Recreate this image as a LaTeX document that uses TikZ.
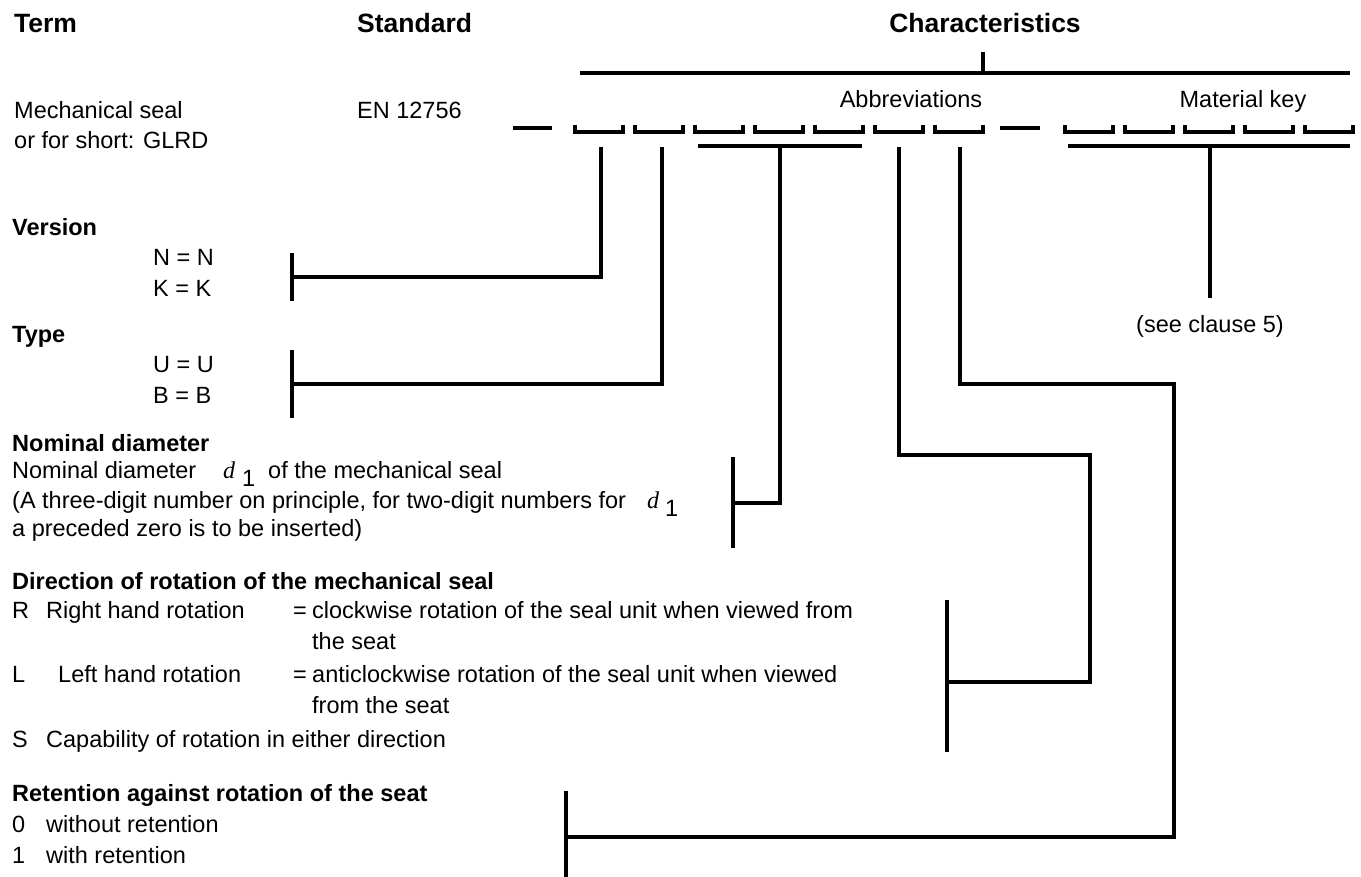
\documentclass[tikz,border=0pt]{standalone}
\usepackage{fontspec}
\setmainfont{Liberation Sans}
\newfontfamily\serifit{Liberation Serif}
\begin{document}
\begin{tikzpicture}[x=1pt,y=-1pt,line cap=butt,line join=miter,
  txt/.style={anchor=west,inner sep=0pt,font=\fontsize{23.5}{28}\selectfont,text height=17pt,text depth=5pt},
  ctxt/.style={txt,anchor=center},
  btxt/.style={txt,font=\fontsize{23.5}{28}\selectfont\bfseries},
  htxt/.style={txt,font=\fontsize{26.5}{30}\selectfont\bfseries},
  dvar/.style={txt,font=\fontsize{24}{28}\selectfont\serifit\itshape},
  slot/.style={line width=3.5pt},
  brk/.style={line width=3.8pt},
  conn/.style={line width=4pt}]
\path[use as bounding box] (0,0) rectangle (1361,877);

% headers
\node[htxt] (hterm) at (14,27) {Term};
\node[htxt] (hstd) at (357,27) {Standard};
\node[htxt,anchor=center] (hchar) at (985,27) {Characteristics};

% top bracket
\coordinate (tbL) at (580,73);
\coordinate (tbR) at (1350,73);
\coordinate (tbT) at (983,52);
\coordinate (tbM) at (983,73);
\draw[brk] (tbL) -- (tbR);
\draw[brk] (tbT) -- (tbM);

\node[ctxt] (abbr) at (911,102) {Abbreviations};
\node[ctxt] (matk) at (1243,102) {Material key};

\node[txt] (term1) at (14,113) {Mechanical seal};
\node[txt] (term2) at (14,143) {or for short: GLRD};
\node[txt] (std) at (357,113) {EN 12756};

% dashes
\coordinate (dA1) at (513,128); \coordinate (dA2) at (552,128);
\coordinate (dB1) at (1000,128); \coordinate (dB2) at (1040,128);
\draw[slot] (dA1) -- (dA2);
\draw[slot] (dB1) -- (dB2);

% slots
\foreach \x in {575,635,695,755,815,875,935,1065,1125,1185,1245,1305}{
  \draw[slot] (\x,125) -- (\x,132) -- (\x+48,132) -- (\x+48,125);
}

% under brackets
\coordinate (nbL) at (698,146); \coordinate (nbR) at (862,146);
\draw[brk] (nbL) -- (nbR);
\coordinate (mbL) at (1068,146); \coordinate (mbR) at (1350,146);
\draw[brk] (mbL) -- (mbR);

% connector start points
\coordinate (s1) at (601,147);
\coordinate (s2) at (662,147);
\coordinate (nb) at (780,146);
\coordinate (s6) at (899,147);
\coordinate (s7) at (960,147);
\coordinate (mb) at (1210,146);
\coordinate (mbE) at (1210,298);

% Version
\node[btxt] (lver) at (12,230) {Version};
\node[txt] (vN) at (153,260) {N = N};
\node[txt] (vK) at (153,291) {K = K};
\coordinate (verT) at (292,253); \coordinate (verB) at (292,301); \coordinate (verM) at (292,277);
\draw[conn] (verT) -- (verB);
\draw[conn] (s1) |- (verM);

% Type
\node[btxt] (ltyp) at (12,337) {Type};
\node[txt] (tU) at (153,367) {U = U};
\node[txt] (tB) at (153,397) {B = B};
\coordinate (typT) at (292,350); \coordinate (typB) at (292,418); \coordinate (typM) at (292,384);
\draw[conn] (typT) -- (typB);
\draw[conn] (s2) |- (typM);

% Nominal diameter
\node[btxt] (lnom) at (12,445) {Nominal diameter};
\node[txt] (n1a) at (12,472) {Nominal diameter};
\node[dvar] (n1d) at (223,472) {d};
\node[txt] (n1s) at (242,480) {1};
\node[txt] (n1b) at (268,472) {of the mechanical seal};
\node[txt] (n2a) at (12,502) {(A three-digit number on principle, for two-digit numbers for};
\node[dvar] (n2d) at (647,502) {d};
\node[txt] (n2s) at (665,510) {1};
\node[txt] (n3) at (12,530) {a preceded zero is to be inserted)};
\coordinate (nomT) at (733,457); \coordinate (nomB) at (733,548); \coordinate (nomM) at (733,503);
\draw[conn] (nomT) -- (nomB);
\draw[conn] (nb) |- (nomM);

% Direction
\node[btxt] (ldir) at (12,583) {Direction of rotation of the mechanical seal};
\node[txt] (dR) at (12,612) {R};
\node[txt] (dR1) at (46,612) {Right hand rotation};
\node[txt] (dR2) at (293,612) {=};
\node[txt] (dR3) at (312,612) {clockwise rotation of the seal unit when viewed from};
\node[txt] (dR4) at (312,643) {the seat};
\node[txt] (dL) at (12,676) {L};
\node[txt] (dL1) at (58,676) {Left hand rotation};
\node[txt] (dL2) at (293,676) {=};
\node[txt] (dL3) at (312,676) {anticlockwise rotation of the seal unit when viewed};
\node[txt] (dL4) at (312,707) {from the seat};
\node[txt] (dS) at (12,741) {S};
\node[txt] (dS1) at (46,741) {Capability of rotation in either direction};
\coordinate (dirT) at (947,600); \coordinate (dirB) at (947,752); \coordinate (dirM) at (947,682);
\coordinate (dir1) at (899,455); \coordinate (dir2) at (1090,455); \coordinate (dir3) at (1090,682);
\draw[conn] (dirT) -- (dirB);
\draw[conn] (s6) -- (dir1) -- (dir2) -- (dir3) -- (dirM);

% Retention
\node[btxt] (lret) at (12,795) {Retention against rotation of the seat};
\node[txt] (r0) at (12,826) {0};
\node[txt] (r0a) at (46,826) {without retention};
\node[txt] (r1) at (12,857) {1};
\node[txt] (r1a) at (46,857) {with retention};
\coordinate (retT) at (566,791); \coordinate (retB) at (566,877); \coordinate (retM) at (566,837);
\coordinate (ret1) at (960,384); \coordinate (ret2) at (1174,384); \coordinate (ret3) at (1174,837);
\draw[conn] (retT) -- (retB);
\draw[conn] (s7) -- (ret1) -- (ret2) -- (ret3) -- (retM);

% Material key
\draw[conn] (mb) -- (mbE);
\node[ctxt] (see) at (1210,327) {(see clause 5)};
\end{tikzpicture}
\end{document}
